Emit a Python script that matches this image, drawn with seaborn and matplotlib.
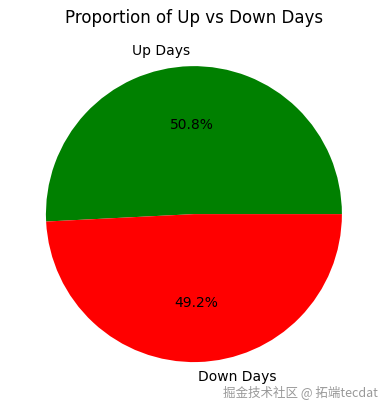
import matplotlib
matplotlib.use("Agg")
import matplotlib.pyplot as plt
import seaborn as sns

sns.set_theme(style="white")
plt.rcParams['font.family'] = ['DejaVu Sans', 'Noto Sans CJK SC']

labels = ["Up Days", "Down Days"]
values = [50.8, 49.2]
colors = ["green", "red"]

fig = plt.figure(figsize=(3.89, 4.09), dpi=100)
ax = fig.add_axes([0.023, 0.024, 0.951, 0.905])
ax.pie(values, labels=labels, colors=colors, autopct="%1.1f%%",
       wedgeprops={"linewidth": 0, "edgecolor": "none"},
       textprops={"fontsize": 10, "color": "black"})
ax.set_title("Proportion of Up vs Down Days", fontsize=12, color="black", pad=4.5)
fig.text(0.972, 0.042, "掘金技术社区 @ 拓端tecdat", ha="right", va="center",
         fontsize=9, color="#999999", family=['Noto Sans CJK SC', 'DejaVu Sans'])
fig.savefig("out.png", dpi=100)
